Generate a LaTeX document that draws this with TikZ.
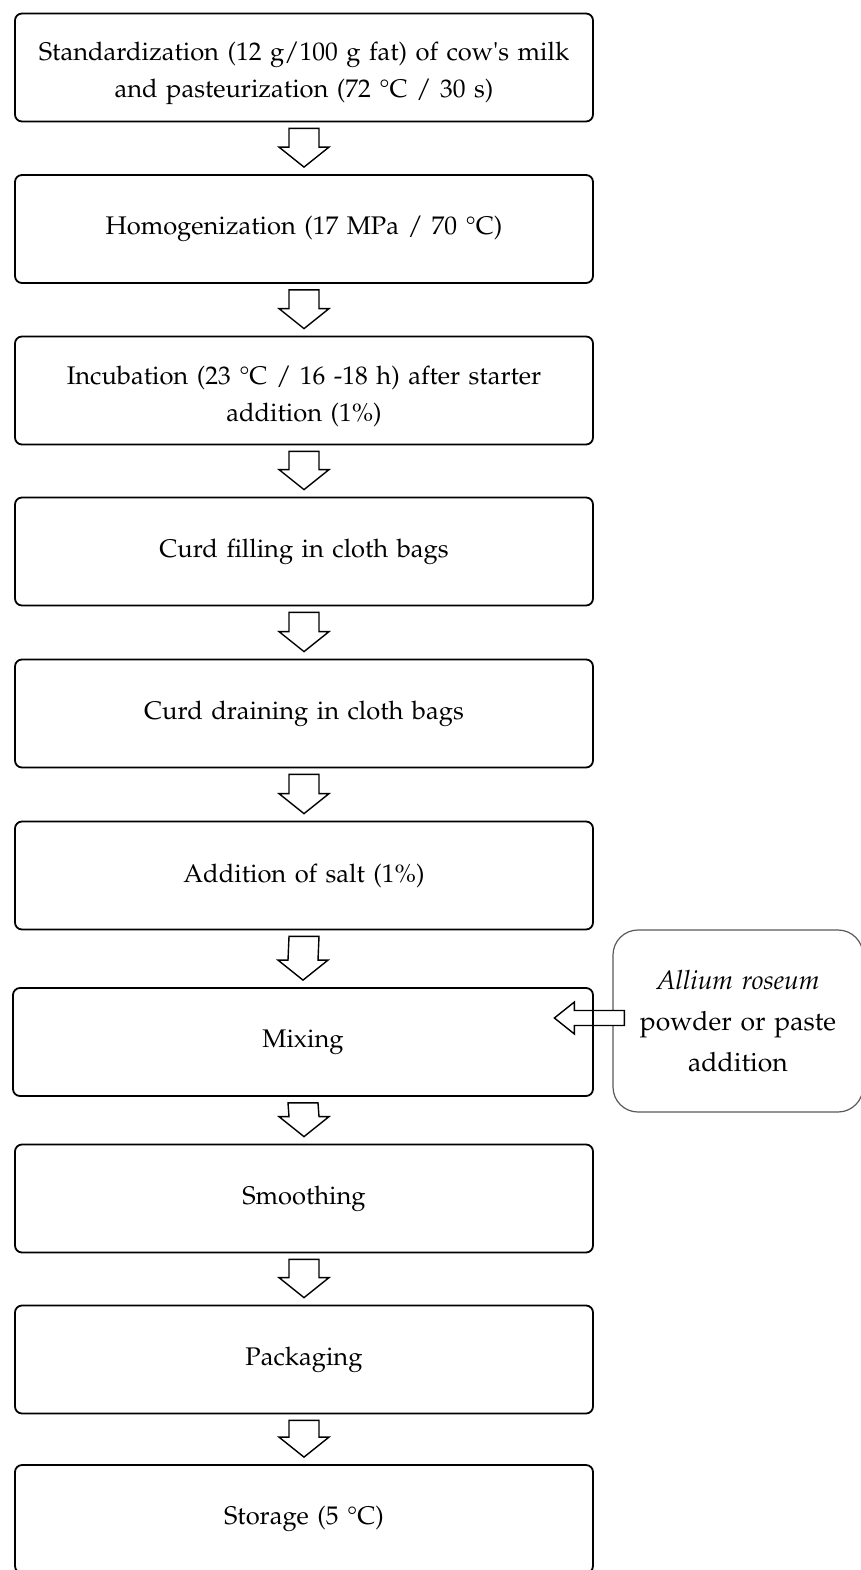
\documentclass[tikz,border=0pt]{standalone}
\usepackage[T1]{fontenc}
\usepackage{mathpazo}
\usepackage{xcolor}
\usepackage{tikz}
\usetikzlibrary{positioning,calc,backgrounds}

\newcommand{\lowstrut}{\rule{0pt}{30pt}}  % pushes two-line texts a little down

\begin{document}
\begin{tikzpicture}[
    x=1pt, y=1pt,
    font=\fontsize{25.5}{36.5}\selectfont,
    stepbox/.style={draw=black, line width=1.8pt, rounded corners=7pt,
      minimum width=578pt, minimum height=108pt, inner sep=0pt,
      text width=560pt, align=center},
    addbox/.style={draw=black!65, line width=1.2pt, rounded corners=25pt,
      minimum width=250pt, minimum height=182pt, inner sep=0pt,
      text width=240pt, align=center, font=\fontsize{26.5}{41}\selectfont},
    blockarrow/.style={draw=black, line width=1.4pt, fill=white, line join=miter},
  ]
  \useasboundingbox (0,0) rectangle (861,-1570);
  \def\cx{304}  % centre of the process column

  % --- Process steps ---
  \node[stepbox] (s1) at (\cx,-67.5) {\lowstrut Standardization (12 g/100 g fat) of cow\textquotesingle s milk\\and pasteurization (72 \textdegree C / 30 s)};
  \node[stepbox] (s2) at (\cx,-229) {Homogenization (17 MPa / 70 \textdegree C)};
  \node[stepbox] (s3) at (\cx,-390.5) {\lowstrut Incubation (23 \textdegree C / 16 -18 h) after starter\\addition (1\%)};
  \node[stepbox] (s4) at (\cx,-551.5) {Curd filling in cloth bags};
  \node[stepbox] (s5) at (\cx,-713.5) {Curd draining in cloth bags};
  \node[stepbox] (s6) at (\cx,-875.5) {Addition of salt (1\%)};
  \node[stepbox, minimum width=580pt] (s7) at (\cx-1,-1042) {Mixing};
  \node[stepbox] (s8) at (\cx,-1198.5) {Smoothing};
  \node[stepbox] (s9) at (\cx,-1359.5) {Packaging};
  \node[stepbox] (s10) at (\cx,-1519) {Storage (5 \textdegree C)};

  % --- Arrows between steps ---
  \foreach \a/\b in {s1/s2, s2/s3, s3/s4, s4/s5, s5/s6, s6/s7, s7/s8, s8/s9, s9/s10} {
    \draw[blockarrow] ([shift={(-15,-6)}]\a.south) -- ([shift={(15,-6)}]\a.south)
      -- ([shift={(15,27)}]\b.north) -- ([shift={(25,27)}]\b.north)
      -- ([shift={(0,7)}]\b.north) -- ([shift={(-25,27)}]\b.north)
      -- ([shift={(-15,27)}]\b.north) -- cycle;
  }

  % --- Side addition (kept under the Mixing box) ---
  \begin{scope}[on background layer]
    \node[addbox] (add) at (738,-1021) {\textit{Allium roseum}\\powder or paste\\addition};
    \draw[blockarrow] ([shift={(12,-4.5)}]add.west) -- ([shift={(12,10.5)}]add.west)
      -- ([shift={(-38,10.5)}]add.west) -- ([shift={(-38,19)}]add.west)
      -- ([shift={(-58,3)}]add.west) -- ([shift={(-38,-13)}]add.west)
      -- ([shift={(-38,-4.5)}]add.west) -- cycle;
  \end{scope}
\end{tikzpicture}
\end{document}
